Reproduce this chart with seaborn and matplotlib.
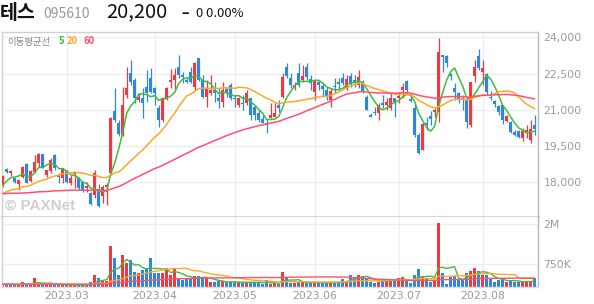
import numpy as np
import pandas as pd
import matplotlib
matplotlib.use("Agg")
import matplotlib.pyplot as plt
import seaborn as sns
from matplotlib.ticker import FixedLocator, FuncFormatter

sns.set_theme(style="white")
plt.rcParams["font.family"] = ["DejaVu Sans", "Noto Sans CJK KR"]

# ---------------- data ----------------
holidays = ["2023-03-01", "2023-05-01", "2023-05-05", "2023-05-29", "2023-06-06", "2023-08-15"]
dates = [d for d in pd.bdate_range("2023-02-07", "2023-08-21") if d.strftime("%Y-%m-%d") not in holidays]

opens = [17870, 18520, 18360, 18150, 17930, 18220, 18730, 18040, 18430, 18770,
         19170, 18290, 18450, 19120, 18290, 18150, 18450, 17940, 18330, 18150,
         18010, 17730, 17550, 17450, 17700, 17400, 17800, 18360, 20950, 20430,
         19950, 21610, 22510, 22230, 21400, 21470, 21960, 22300, 21890, 21060,
         20570, 21470, 22140, 22230, 22790, 22440, 22230, 22580, 21960, 23130,
         22230, 21540, 21710, 21820, 21470, 21330, 21850, 22030, 21500, 21200,
         21290, 21290, 21470, 21130, 20850, 20610, 20460, 20640, 20680, 21200,
         21540, 22790, 22300, 21960, 22510, 22230, 22790, 22260, 21750, 22170,
         21990, 21820, 21400, 21990, 22170, 22300, 21890, 22400, 22230, 22030,
         22100, 21540, 20780, 20920, 20850, 21290, 21200, 21060, 21470, 21500,
         21820, 22190, 21440, 21060, 19950, 19330, 20460, 20750, 20920, 20920,
         23270, 23240, 22470, 21920, 21680, 21500, 21400, 20370, 22410, 23240,
         22550, 22470, 21540, 21360, 21170, 21200, 20530, 20480, 20060, 20120,
         19840, 20020, 19740, 20370]
highs = [18290, 18560, 18500, 18180, 18080, 18660, 18770, 18500, 19120, 19220,
         19180, 18500, 18980, 19160, 18360, 18570, 18500, 18290, 18400, 18220,
         18040, 18010, 17600, 18500, 17900, 17870, 17950, 20700, 21890, 20570,
         21960, 22790, 23070, 22300, 21700, 21890, 22650, 22720, 21950, 21200,
         21540, 21950, 22690, 22720, 23270, 22580, 22300, 22790, 23000, 23150,
         22440, 22230, 22440, 22170, 21890, 22170, 21960, 22100, 21610, 21540,
         21610, 21820, 21480, 21200, 20990, 20780, 20600, 21270, 21270, 21400,
         22510, 22930, 22510, 22170, 22930, 22860, 22930, 22440, 22230, 22230,
         22100, 21960, 21890, 22300, 22300, 22510, 22440, 22510, 22440, 22650,
         22230, 21610, 20850, 21130, 21270, 21610, 21470, 21680, 21500, 21750,
         22100, 22230, 21680, 21270, 20020, 20430, 20710, 20950, 21060, 23990,
         23280, 23270, 22510, 22100, 21750, 21610, 21470, 22170, 23070, 23520,
         23070, 22510, 21780, 21400, 21200, 21200, 20780, 20530, 20160, 20160,
         20230, 20370, 20570, 20780]
lows = [17800, 18360, 18260, 17940, 17660, 18180, 17940, 18010, 18360, 18630,
        18560, 18220, 18360, 18500, 17940, 17940, 17970, 17870, 17730, 17660,
        17590, 17590, 17040, 17350, 16950, 17110, 17040, 18300, 20500, 19920,
        19900, 21470, 22030, 21270, 21300, 20640, 21330, 21700, 21200, 20300,
        20500, 21400, 21890, 21820, 22300, 22100, 22100, 22100, 21820, 22200,
        21470, 21130, 21610, 21330, 21060, 21130, 21540, 21400, 21130, 21130,
        20990, 21200, 20570, 20570, 20500, 20430, 20050, 20640, 20680, 20920,
        21470, 22300, 21890, 21820, 21960, 22170, 22230, 21820, 21400, 21820,
        21540, 21400, 21130, 21680, 21820, 22030, 21820, 21960, 21960, 21890,
        21680, 20990, 20700, 20780, 20570, 21060, 20990, 20990, 20710, 21270,
        21470, 21680, 21330, 19880, 19160, 19320, 20160, 20370, 20710, 20500,
        22580, 22790, 22230, 21400, 21270, 20990, 20250, 20300, 22170, 22650,
        22030, 21640, 21400, 21130, 20780, 20390, 20480, 20020, 19920, 19840,
        19700, 19810, 19600, 19950]
closes = [18260, 18430, 18470, 18010, 18070, 18620, 17970, 18470, 18810, 19150,
          18590, 18500, 18910, 18560, 18200, 18560, 18010, 18150, 18380, 17730,
          17620, 17840, 17080, 18360, 16990, 17800, 17880, 20670, 20570, 19980,
          21200, 21890, 22140, 21470, 21540, 21270, 21680, 21750, 21680, 20570,
          21470, 21890, 22230, 22440, 22440, 22350, 22170, 22170, 22950, 22230,
          21540, 21890, 21820, 21710, 21380, 21820, 21750, 21470, 21440, 21470,
          21240, 21680, 20780, 20780, 20570, 20460, 20360, 20780, 20880, 21080,
          22370, 22400, 22030, 22030, 22030, 22400, 22370, 22100, 22210, 22030,
          21850, 21540, 21780, 21930, 22070, 22100, 22260, 22100, 22170, 22370,
          21750, 20990, 20710, 20880, 21200, 21200, 21330, 21470, 21330, 21580,
          21960, 21820, 21380, 19950, 19190, 20390, 20370, 20610, 20990, 23380,
          23200, 22930, 22410, 21750, 21440, 21400, 20480, 22140, 22790, 22720,
          22720, 21720, 21470, 21220, 20890, 20570, 20740, 20090, 19950, 19880,
          20120, 20160, 20200, 20200]
volumes_k = [96, 128, 64, 64, 64, 160, 128, 64, 288, 96,
             96, 96, 96, 96, 64, 64, 64, 64, 96, 64,
             64, 64, 160, 384, 288, 192, 192, 1310, 930, 385,
             1020, 770, 860, 480, 450, 540, 610, 930, 450, 450,
             450, 610, 385, 610, 290, 225, 290, 290, 350, 350,
             290, 290, 160, 160, 190, 190, 160, 160, 160, 160,
             160, 160, 160, 160, 160, 96, 225, 96, 128, 96,
             480, 320, 128, 128, 160, 160, 160, 160, 128, 128,
             128, 160, 160, 160, 160, 256, 160, 385, 320, 385,
             350, 290, 160, 128, 160, 256, 256, 256, 190, 290,
             320, 190, 128, 385, 575, 350, 290, 160, 225, 2050,
             450, 96, 320, 350, 225, 225, 450, 510, 610, 510,
             385, 385, 256, 160, 225, 290, 160, 225, 160, 160,
             190, 190, 190, 290]
# closes / volumes before the visible window (estimated from the moving-average lines)
prior_closes = [17650, 17800, 17950, 18100, 18000, 17850, 17700, 17900, 18150, 18300,
                18100, 17950, 17800, 17900, 18050, 17850, 17700, 17800, 17950, 17850,
                17700, 17600, 17750, 17900, 17800, 17750,
                17400, 17150, 16900, 16700, 16550, 16400, 16600, 16450, 16650, 16800,
                16700, 16900, 17000, 16800,
                17050, 17200, 17350, 17250, 17400, 17550, 17450, 17300, 17500, 17650,
                17550, 17400, 17600, 17500, 17450,
                17600, 17750, 17900, 17840]
prior_volumes_k = [110, 95, 120, 105, 90, 130, 100, 85, 115, 100,
                   120, 95, 105, 110, 90, 100, 125, 95, 105, 100,
                   90, 110, 100, 95, 120, 105, 100, 90, 115, 100,
                   95, 105, 110, 90, 100, 95, 105, 100, 110, 95,
                   90, 100, 85, 95, 105, 90, 100, 95, 85, 100,
                   90, 95, 105, 90, 100, 95, 90, 100, 95]
ma_windows = [5, 20, 60]
ma_colors = ["#3cbf3c", "#ffa726", "#ff5073"]
price_ticks = [18000, 19500, 21000, 22500, 24000]
volume_ticks = [750000, 2000000]
volume_tick_labels = ["750K", "2M"]

# ---------------- frame ----------------
n = len(closes)
df = pd.DataFrame({"i": np.arange(n), "date": dates, "open": opens, "high": highs,
                   "low": lows, "close": closes, "volume": np.array(volumes_k) * 1000})
full_c = pd.Series(prior_closes + closes, dtype=float)
full_v = pd.Series(prior_volumes_k + volumes_k, dtype=float) * 1000
for w in ma_windows:
    df[f"ma{w}"] = full_c.rolling(w, min_periods=1).mean().iloc[-n:].values
    df[f"vma{w}"] = full_v.rolling(w, min_periods=1).mean().iloc[-n:].values

UP, DOWN = "#f4363f", "#2b86e6"
up = df["close"] >= df["open"]
cols = np.where(up, UP, DOWN)

W, H = 594, 304
fig = plt.figure(figsize=(W / 100, H / 100), dpi=100)
fig.patch.set_facecolor("white")
ax = fig.add_axes([2 / W, 1 - 217 / H, 536 / W, (217 - 31.5) / H])
axv = fig.add_axes([2 / W, 1 - 287.3 / H, 536 / W, (287.3 - 217) / H], sharex=ax)

# month ticks
months = pd.Series(pd.to_datetime(df["date"])).dt.to_period("M")
first_idx = [int(k) for k in np.where(months.ne(months.shift()).values)[0]][1:]
month_labels = [df["date"][k].strftime("%Y.%m") for k in first_idx]

grid_c = "#eeeeee"
for a in (ax, axv):
    a.set_facecolor("white")
    a.grid(False)
    for k in first_idx:
        a.axvline(k, color=grid_c, lw=1, zorder=0)

for t in price_ticks:
    ax.axhline(t, color=grid_c, lw=1, zorder=0)
for t in volume_ticks:
    axv.axhline(t, color=grid_c, lw=1, zorder=0)

# candles
ax.vlines(df["i"], df["low"], df["high"], colors=cols, lw=0.9, zorder=2)
body_lo = np.minimum(df["open"], df["close"])
body_h = np.maximum(np.abs(df["close"] - df["open"]), 45)
ax.bar(df["i"], body_h, bottom=body_lo, width=0.72, color=cols, linewidth=0, zorder=3)

for w, c in zip(ma_windows, ma_colors):
    sns.lineplot(data=df, x="i", y=f"ma{w}", color=c, lw=1.1, ax=ax, zorder=4)
    sns.lineplot(data=df, x="i", y=f"vma{w}", color=c, lw=1.0, ax=axv, zorder=4)

axv.bar(df["i"], df["volume"], width=0.72, color=cols, linewidth=0, zorder=2)

ax.set_xlim(-0.2, 133.85)
ax.set_ylim(16542, 24249)
axv.set_ylim(0, 2230000)

tick_c = "#9a9a9a"
ax.yaxis.tick_right()
ax.yaxis.set_major_locator(FixedLocator(price_ticks))
ax.yaxis.set_major_formatter(FuncFormatter(lambda v, p: f"{int(v):,}"))
ax.tick_params(axis="y", length=0, pad=4, labelsize=7.8, labelcolor=tick_c)
ax.tick_params(axis="x", length=0, labelbottom=False)
axv.yaxis.tick_right()
axv.set_yticks(volume_ticks)
axv.set_yticklabels(volume_tick_labels)
axv.tick_params(axis="y", length=0, pad=4, labelsize=7.8, labelcolor=tick_c)
axv.set_xticks(first_idx)
axv.set_xticklabels(month_labels)
axv.tick_params(axis="x", length=0, pad=2.5, labelsize=7.8, labelcolor=tick_c)
for a in (ax, axv):
    a.set_xlabel("")
    a.set_ylabel("")

for s in ("left", "top"):
    ax.spines[s].set_color("#d0d0d0")
ax.spines["right"].set_color("#b8b8b8")
ax.spines["bottom"].set_color("#333333")
axv.spines["top"].set_visible(False)
axv.spines["left"].set_color("#d0d0d0")
axv.spines["right"].set_color("#b8b8b8")
axv.spines["bottom"].set_color("#dddddd")
for a in (ax, axv):
    for s in a.spines.values():
        s.set_linewidth(1)

# header
kr = ["Noto Sans CJK KR", "DejaVu Sans"]
fig.text(0 / W, 1 - 19 / H, "테스", fontsize=14, fontweight="bold", color="#111111", family=kr, va="baseline")
fig.text(43 / W, 1 - 17.5 / H, "095610", fontsize=10, color="#999999", family=kr, va="baseline")
fig.text(106 / W, 1 - 17.5 / H, "20,200", fontsize=14.5, color="#111111", family=kr, va="baseline")
fig.text(181 / W, 1 - 17 / H, "–", fontsize=10, fontweight="bold", color="#111111", family=kr, va="baseline")
fig.text(196 / W, 1 - 17 / H, "0 0.00%", fontsize=9.3, color="#111111", family=kr, va="baseline")

# legend of moving averages
fig.text(7 / W, 1 - 44.5 / H, "이동평균선", fontsize=6.8, color="#888888", family=kr, va="baseline")
xs = [59, 67, 83]
for x, w, c in zip(xs, ma_windows, ma_colors):
    fig.text(x / W, 1 - 44.5 / H, str(w), fontsize=6.8, color=c, family=kr, va="baseline", fontweight="bold")

# watermark
fig.text(5 / W, 1 - 210 / H, "© PAXNet", fontsize=11, fontweight="bold", color="#cfcfcf",
         family=["Liberation Sans", "DejaVu Sans"], va="baseline", zorder=1)

fig.savefig("out.png", dpi=100, facecolor="white")
